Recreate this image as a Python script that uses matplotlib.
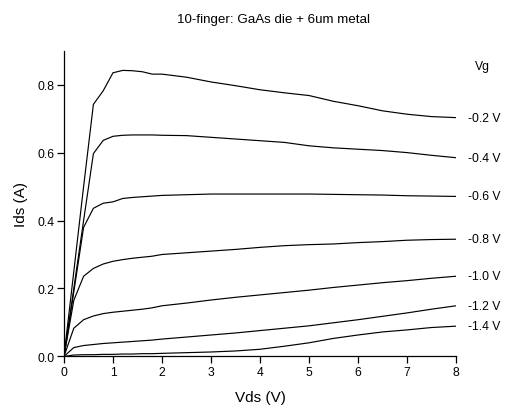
import matplotlib
matplotlib.use("Agg")
import matplotlib.pyplot as plt

plt.rcParams['font.family'] = ['Liberation Sans', 'DejaVu Sans']

vds = [0, 0.2, 0.4, 0.6, 0.8, 1.0, 1.2, 1.4, 1.6, 1.8, 2.0, 2.5, 3.0, 3.5,
       4.0, 4.5, 5.0, 5.5, 6.0, 6.5, 7.0, 7.5, 8.0]

ids_m02 = [0, 0.25, 0.50, 0.742, 0.782, 0.835, 0.842, 0.841, 0.838, 0.831, 0.831,
           0.822, 0.808, 0.797, 0.785, 0.776, 0.768, 0.751, 0.738, 0.723, 0.713,
           0.706, 0.703]
ids_m04 = [0, 0.20, 0.40, 0.597, 0.636, 0.648, 0.651, 0.652, 0.652, 0.652, 0.651,
           0.650, 0.645, 0.640, 0.635, 0.630, 0.620, 0.614, 0.610, 0.606, 0.600,
           0.592, 0.585]
ids_m06 = [0, 0.19, 0.38, 0.436, 0.451, 0.455, 0.465, 0.468, 0.470, 0.472, 0.474,
           0.476, 0.478, 0.478, 0.478, 0.478, 0.478, 0.477, 0.476, 0.475, 0.473,
           0.472, 0.471]
ids_m08 = [0, 0.165, 0.236, 0.259, 0.272, 0.280, 0.285, 0.289, 0.292, 0.295, 0.300,
           0.305, 0.310, 0.315, 0.321, 0.326, 0.329, 0.331, 0.335, 0.338, 0.342,
           0.344, 0.345]
ids_m10 = [0, 0.083, 0.108, 0.119, 0.126, 0.130, 0.133, 0.136, 0.139, 0.143, 0.149,
           0.157, 0.166, 0.174, 0.181, 0.188, 0.195, 0.203, 0.210, 0.217, 0.223,
           0.230, 0.236]
ids_m12 = [0, 0.026, 0.032, 0.035, 0.038, 0.040, 0.042, 0.044, 0.046, 0.048, 0.051,
           0.057, 0.063, 0.069, 0.076, 0.083, 0.090, 0.099, 0.108, 0.118, 0.128,
           0.139, 0.149]
ids_m14 = [0, 0.004, 0.005, 0.005, 0.006, 0.006, 0.007, 0.007, 0.008, 0.008, 0.009,
           0.011, 0.013, 0.016, 0.021, 0.030, 0.040, 0.053, 0.063, 0.072, 0.078,
           0.085, 0.089]

series = [ids_m02, ids_m04, ids_m06, ids_m08, ids_m10, ids_m12, ids_m14]
vg_labels = ['-0.2 V', '-0.4 V', '-0.6 V', '-0.8 V', '-1.0 V', '-1.2 V', '-1.4 V']
xticks = [0, 1, 2, 3, 4, 5, 6, 7, 8]
yticks = [0.0, 0.2, 0.4, 0.6, 0.8]

fig = plt.figure(figsize=(5.06, 4.10), dpi=100)
ax = fig.add_axes([64/506, 52.6/410, 392/506, 305.7/410])

for ys, lab in zip(series, vg_labels):
    ax.plot(vds, ys, color='black', lw=0.85)
    ax.annotate(lab, xy=(vds[-1], ys[-1]), xytext=(9, 0), textcoords='offset points',
                ha='left', va='center', fontsize=8.7, annotation_clip=False)

ax.text(8.39, 0.855, 'Vg', ha='left', va='center', fontsize=8.7, clip_on=False)

ax.set_xlim(0, 8)
ax.set_ylim(0, 0.9)
ax.set_xticks(xticks)
ax.set_yticks(yticks)
ax.set_xticklabels([str(t) for t in xticks])
ax.set_yticklabels([f'{t:.1f}' for t in yticks])
for s in ['top', 'right']:
    ax.spines[s].set_visible(False)
for s in ['left', 'bottom']:
    ax.spines[s].set_linewidth(0.9)
ax.tick_params(direction='out', length=5, width=0.9, labelsize=8.7, pad=2)

ax.set_xlabel('Vds (V)', fontsize=11)
ax.set_ylabel('Ids (A)', fontsize=11)
ax.xaxis.set_label_coords(0.5, -0.11)
ax.yaxis.set_label_coords(-0.092, 0.5)

fig.text(274/506, 1 - 20/410, '10-finger: GaAs die + 6um metal', ha='center', va='center',
         fontsize=9.6)

fig.savefig('out.png', dpi=100)
